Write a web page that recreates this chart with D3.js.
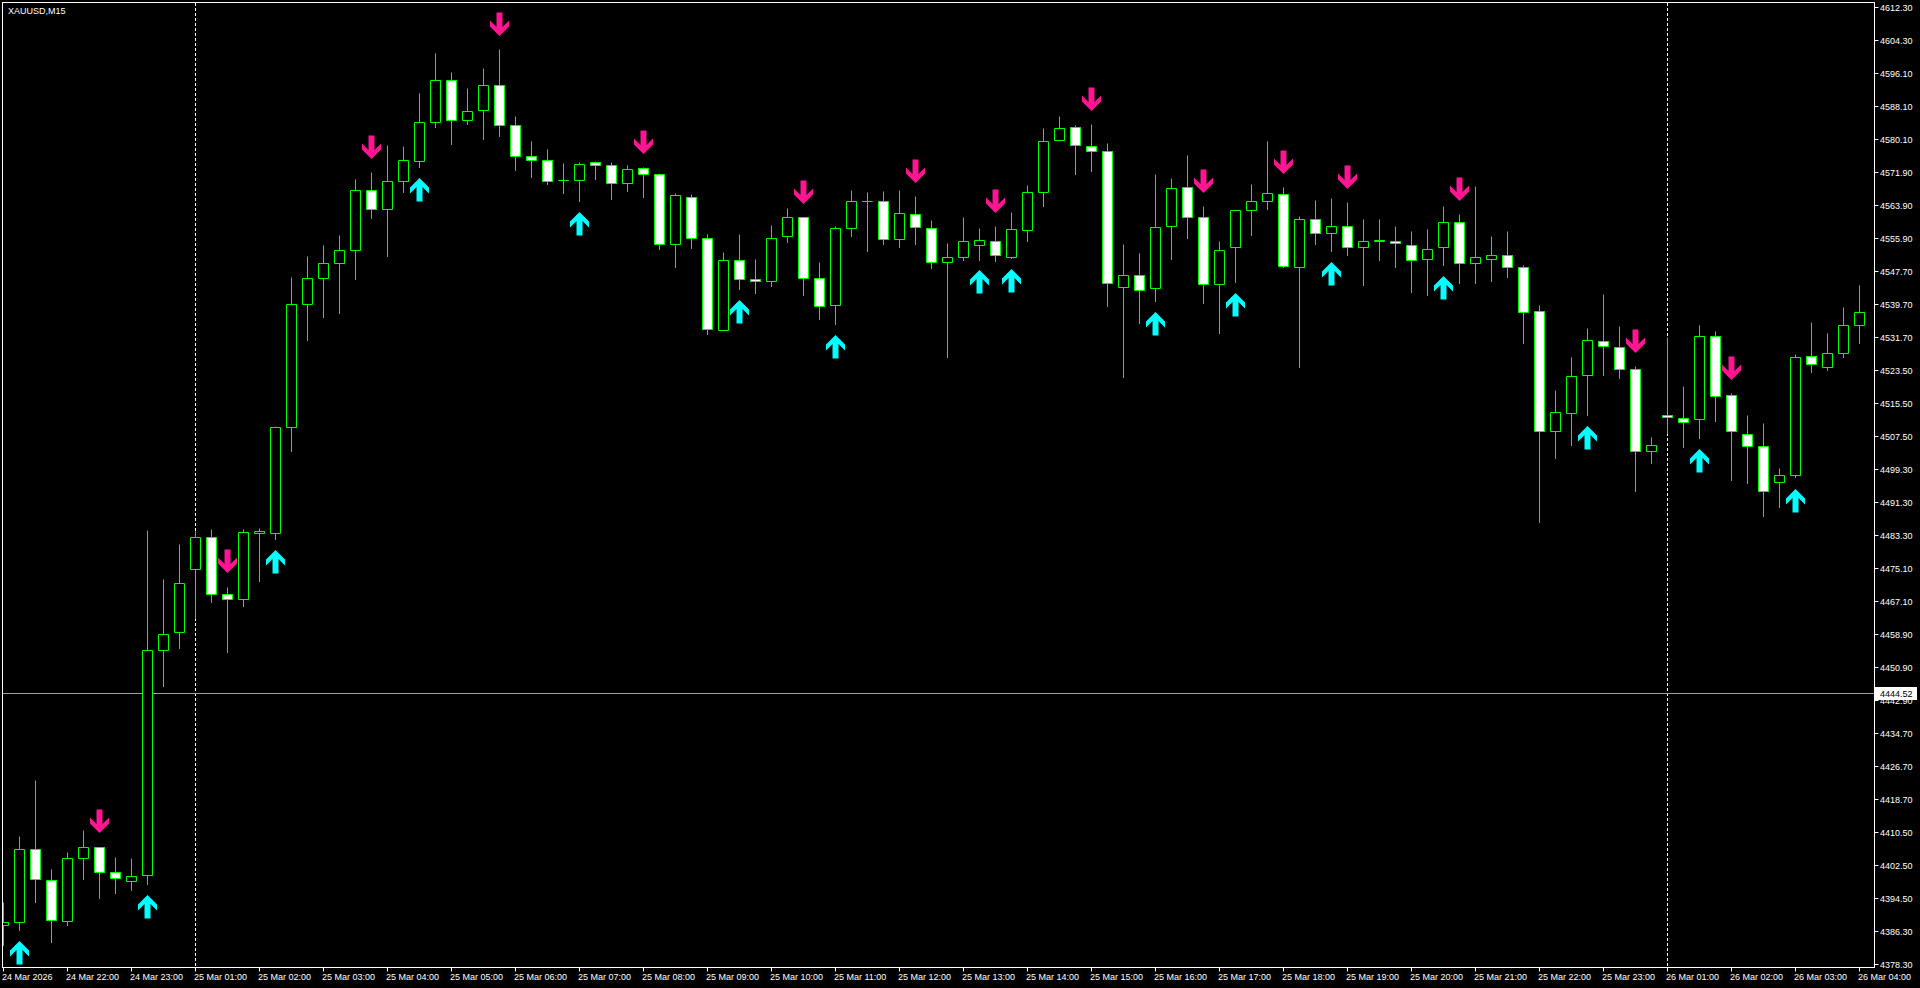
<!DOCTYPE html>
<html><head><meta charset="utf-8">
<script src="https://cdn.jsdelivr.net/npm/d3@7"></script>
<style>
html,body{margin:0;padding:0;background:#000;overflow:hidden;}
svg{display:block;}
text{font-family:"Liberation Sans",Arial,sans-serif;font-size:9px;fill:#fff;}
</style></head><body>
<svg id="chart" width="1920" height="988"></svg>
<script>
const symbolLabel = "XAUUSD,M15";
const opens = [4387.96,4388.61,4406.56,4398.98,4388.93,4404.36,4407.05,4400.93,4398.73,4400.20,
4455.03,4459.44,4474.81,4482.64,4468.92,4467.48,4483.82,4483.65,4509.58,4539.64,
4545.96,4549.66,4552.86,4567.49,4562.85,4569.69,4574.58,4584.12,4594.39,4584.61,
4587.05,4593.17,4583.39,4575.80,4574.83,4569.95,4569.93,4574.33,4573.60,4569.20,
4572.87,4571.40,4554.29,4565.78,4555.75,4533.26,4550.38,4545.73,4545.24,4556.25,
4560.89,4545.98,4539.38,4558.20,4564.80,4564.80,4555.51,4561.63,4558.20,4549.89,
4551.11,4554.04,4555.02,4551.27,4557.87,4567.00,4579.71,4582.89,4578.25,4577.02,
4543.77,4546.71,4543.53,4558.69,4568.22,4560.89,4544.51,4553.55,4562.60,4564.80,
4566.51,4548.83,4560.40,4556.97,4558.85,4553.55,4555.18,4555.18,4554.20,4550.62,
4553.55,4559.66,4549.64,4550.79,4551.60,4548.67,4537.91,4508.57,4512.97,4522.26,
4530.57,4529.11,4523.73,4503.68,4512.48,4511.74,4511.50,4531.79,4517.37,4507.83,
4504.90,4496.10,4497.81,4526.90,4524.21,4527.64,4534.48];
const highs = [4393.51,4409.58,4423.29,4401.67,4405.67,4411.05,4407.05,4404.44,4404.20,4484.49,
4472.50,4481.07,4484.08,4484.66,4470.60,4484.66,4484.92,4509.92,4546.21,4551.43,
4554.13,4556.48,4570.29,4571.98,4578.58,4578.33,4591.29,4601.07,4596.43,4592.51,
4597.40,4602.05,4585.67,4579.55,4577.60,4574.17,4574.33,4574.66,4574.33,4573.68,
4573.11,4571.73,4566.84,4566.60,4556.73,4552.33,4556.74,4550.70,4558.94,4563.09,
4560.89,4549.97,4558.77,4567.58,4567.09,4567.33,4567.58,4566.11,4560.24,4554.61,
4560.97,4558.28,4558.77,4562.19,4568.79,4582.73,4585.66,4583.46,4583.71,4579.06,
4554.37,4552.17,4571.48,4570.50,4576.13,4563.66,4555.02,4562.60,4569.04,4579.55,
4568.39,4561.21,4565.13,4565.53,4564.56,4560.40,4560.40,4558.69,4557.55,4558.03,
4563.66,4561.70,4568.50,4556.33,4557.55,4549.24,4539.38,4518.67,4526.74,4533.83,
4542.15,4534.32,4524.54,4507.10,4531.55,4519.65,4534.56,4533.10,4517.86,4512.56,
4510.52,4499.52,4527.39,4535.30,4532.61,4538.96,4544.34];
const lows = [4382.90,4386.57,4393.51,4383.72,4387.80,4399.14,4394.48,4395.71,4396.45,4397.91,
4446.38,4455.69,4463.02,4466.81,4454.60,4465.80,4471.86,4482.14,4503.86,4530.97,
4536.61,4537.62,4545.87,4560.81,4551.52,4567.17,4573.28,4583.06,4578.90,4583.79,
4580.13,4580.86,4572.55,4570.83,4568.96,4566.92,4564.96,4570.34,4565.45,4567.41,
4565.94,4553.06,4548.66,4553.31,4532.28,4533.26,4543.45,4542.47,4544.18,4554.94,
4541.98,4536.12,4534.89,4556.41,4552.74,4554.45,4553.72,4554.29,4548.58,4526.82,
4550.54,4550.54,4550.29,4551.03,4555.18,4563.74,4579.71,4571.56,4572.30,4539.29,
4521.77,4535.13,4540.51,4550.78,4555.92,4540.03,4532.53,4545.08,4556.65,4563.01,
4548.83,4524.38,4554.45,4552.74,4551.76,4544.42,4550.54,4548.83,4542.71,4541.98,
4549.31,4544.91,4544.76,4545.41,4546.22,4530.09,4486.32,4502.13,4505.31,4512.64,
4522.42,4521.69,4494.06,4500.91,4508.08,4504.82,4507.02,4511.17,4496.75,4496.01,
4487.95,4490.15,4497.32,4523.15,4523.64,4526.82,4530.24];
const closes = [4388.61,4406.56,4399.14,4389.18,4404.36,4407.05,4400.93,4399.46,4399.95,4455.03,
4458.95,4471.44,4482.64,4468.92,4467.48,4484.07,4484.32,4509.58,4539.64,4545.96,
4549.66,4552.86,4567.51,4562.85,4569.69,4574.83,4584.12,4594.39,4584.61,4586.81,
4593.17,4583.39,4575.80,4574.83,4569.69,4569.95,4573.85,4573.60,4569.20,4572.62,
4571.40,4554.29,4566.27,4555.75,4533.50,4550.37,4545.73,4545.24,4555.76,4560.89,
4545.98,4539.13,4558.20,4564.80,4564.80,4555.51,4561.87,4558.45,4549.89,4551.11,
4555.02,4555.26,4551.60,4557.95,4567.00,4579.47,4582.65,4578.49,4577.02,4544.75,
4546.71,4543.04,4558.44,4567.98,4560.89,4544.51,4552.82,4562.60,4564.80,4566.76,
4548.91,4560.40,4556.97,4558.69,4553.55,4555.02,4555.45,4554.61,4550.37,4553.06,
4559.66,4549.64,4551.11,4551.60,4548.67,4537.67,4508.57,4513.22,4522.00,4530.82,
4529.35,4523.73,4503.68,4505.15,4511.99,4510.76,4531.79,4517.12,4508.56,4504.90,
4493.89,4497.81,4526.66,4524.95,4527.64,4534.48,4537.66];

const upSignalBars   = [1,9,17,26,36,46,52,61,63,72,77,83,90,99,106,112];
const upSignalPrices = [4384.04,4395.20,4479.44,4570.59,4562.27,4540.68,4532.12,4547.93,4548.34,4537.82,4542.47,4550.05,4546.54,4509.95,4504.25,4494.55];
const downSignalBars   = [6,14,23,31,40,50,57,62,68,75,80,84,91,102,108];
const downSignalPrices = [4410.52,4474.22,4575.32,4605.47,4576.54,4564.32,4569.61,4562.27,4587.13,4567.00,4571.65,4568.14,4565.13,4527.88,4521.36];

const timeLabelBars = [0,4,8,12,16,20,24,28,32,36,40,44,48,52,56,60,64,68,72,76,80,84,88,92,96,100,104,108,112,116];
const timeLabels = ["24 Mar 2026","24 Mar 22:00","24 Mar 23:00","25 Mar 01:00","25 Mar 02:00","25 Mar 03:00",
"25 Mar 04:00","25 Mar 05:00","25 Mar 06:00","25 Mar 07:00","25 Mar 08:00","25 Mar 09:00","25 Mar 10:00",
"25 Mar 11:00","25 Mar 12:00","25 Mar 13:00","25 Mar 14:00","25 Mar 15:00","25 Mar 16:00","25 Mar 17:00",
"25 Mar 18:00","25 Mar 19:00","25 Mar 20:00","25 Mar 21:00","25 Mar 22:00","25 Mar 23:00","26 Mar 01:00",
"26 Mar 02:00","26 Mar 03:00","26 Mar 04:00"];
const priceTicks = [4612.30,4604.30,4596.10,4588.10,4580.10,4571.90,4563.90,4555.90,4547.70,4539.70,4531.70,
4523.50,4515.50,4507.50,4499.30,4491.30,4483.30,4475.10,4467.10,4458.90,4450.90,4442.90,4434.70,4426.70,
4418.70,4410.50,4402.50,4394.50,4386.30,4378.30];
const separatorBars = [12,104];
const hLinePrice = 4444.52;

// ---------- drawing ----------
const svg = d3.select("#chart");
const W = 1920, H = 988;
const plot = {left: 2.5, top: 2.5, right: 1874.5, bottom: 967.5};
const nBars = opens.length;
const bars = opens.map((o, i) => ({i, o, h: highs[i], l: lows[i], c: closes[i]}));

const x = d3.scaleLinear().domain([0, nBars - 1]).range([3.5, 3.5 + 16 * (nBars - 1)]);
const y = d3.scaleLinear().domain([4377.60, 4614.03]).range([967, 0]);
const py = p => Math.round(y(p)) + 0.5;

svg.append("rect").attr("width", W).attr("height", H).attr("fill", "#000");

svg.append("defs").append("clipPath").attr("id", "clip")
  .append("rect").attr("x", 3).attr("y", 3).attr("width", plot.right - 3).attr("height", plot.bottom - 3);

const g = svg.append("g").attr("clip-path", "url(#clip)");

// separators
g.selectAll("line.sep").data(separatorBars).join("line").attr("class", "sep")
  .attr("x1", d => x(d)).attr("x2", d => x(d)).attr("y1", 3).attr("y2", plot.bottom)
  .attr("stroke", "#fff").attr("stroke-width", 1).attr("stroke-dasharray", "3,2");

// horizontal line
g.append("line").attr("x1", 3).attr("x2", plot.right).attr("y1", py(hLinePrice)).attr("y2", py(hLinePrice))
  .attr("stroke", "#a0a0a0").attr("stroke-width", 1);

const lime = "#00ff00";
// wicks
g.selectAll("line.wick").data(bars).join("line").attr("class", "wick")
  .attr("x1", d => x(d.i)).attr("x2", d => x(d.i))
  .attr("y1", d => py(d.h)).attr("y2", d => py(d.l) + 0.5)
  .attr("stroke", lime).attr("stroke-width", 1);
// bodies
g.selectAll("path.body").data(bars).join("path").attr("class", "body")
  .attr("d", d => {
    const t = py(Math.max(d.o, d.c)), b = py(Math.min(d.o, d.c));
    const x0 = x(d.i) - 5, x1 = x(d.i) + 5;
    return `M${x0},${t}H${x1}V${b}H${x0}Z`;
  })
  .attr("fill", d => d.c < d.o ? "#fff" : "#000")
  .attr("stroke", lime).attr("stroke-width", 1);

// arrows
const upShape = [[0,0],[9.5,9.5],[9.5,15.5],[3,9],[3,23.5],[-3,23.5],[-3,9],[-9.5,15.5],[-9.5,9.5]];
const line = d3.line();
const ups = upSignalBars.map((b, k) => ({b, p: upSignalPrices[k]}));
const downs = downSignalBars.map((b, k) => ({b, p: downSignalPrices[k]}));
g.selectAll("path.up").data(ups).join("path").attr("class", "up")
  .attr("d", d => line(upShape.map(([dx, dy]) => [x(d.b) + dx, Math.round(y(d.p)) + dy])) + "Z")
  .attr("fill", "#00ffff");
g.selectAll("path.down").data(downs).join("path").attr("class", "down")
  .attr("d", d => line(upShape.map(([dx, dy]) => [x(d.b) + dx, Math.round(y(d.p)) + 1 - dy])) + "Z")
  .attr("fill", "#ff1493");

// frame
svg.append("rect").attr("x", plot.left).attr("y", plot.top)
  .attr("width", plot.right - plot.left).attr("height", plot.bottom - plot.top)
  .attr("fill", "none").attr("stroke", "#fff").attr("stroke-width", 1);

// price axis
const pa = svg.append("g");
pa.selectAll("line").data(priceTicks).join("line")
  .attr("x1", plot.right).attr("x2", plot.right + 4).attr("y1", d => py(d)).attr("y2", d => py(d))
  .attr("stroke", "#fff");
pa.selectAll("text").data(priceTicks).join("text")
  .attr("x", 1880).attr("y", d => Math.round(y(d)) + 4)
  .text(d => d.toFixed(2));

// current price marker
const hy = Math.round(y(hLinePrice));
svg.append("rect").attr("x", 1875).attr("y", hy - 6).attr("width", 42).attr("height", 13).attr("fill", "#fff");
svg.append("text").attr("x", 1880).attr("y", hy + 4).style("fill", "#000").text(hLinePrice.toFixed(2));

// time axis
const ta = svg.append("g");
ta.selectAll("line").data(timeLabelBars).join("line")
  .attr("x1", d => x(d)).attr("x2", d => x(d)).attr("y1", plot.bottom).attr("y2", plot.bottom + 4)
  .attr("stroke", "#fff");
ta.selectAll("text").data(timeLabelBars).join("text")
  .attr("x", d => x(d) - 1.5).attr("y", 980)
  .text((d, k) => timeLabels[k]);

// symbol label
svg.append("text").attr("x", 8).attr("y", 14).text(symbolLabel);
</script>
</body></html>
